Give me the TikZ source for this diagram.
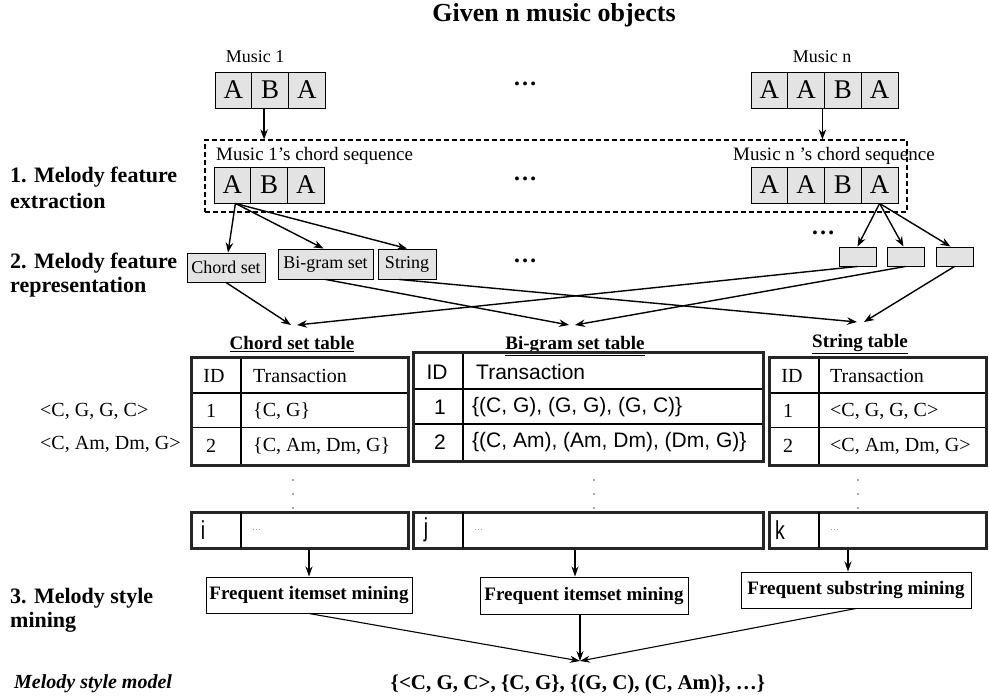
\documentclass[tikz,border=0pt]{standalone}
\usepackage{fontspec}
\setmainfont{Liberation Serif}
\newfontfamily\sansf{Liberation Sans}
\usetikzlibrary{arrows.meta}
\newcommand\fsz[1]{\fontsize{#1}{#1}\selectfont}
\begin{document}
\begin{tikzpicture}[x=1pt,y=-1pt,
  arr/.style={-{Stealth[length=10pt,width=7.5pt]},line width=1.4pt},
  thinarr/.style={-{Stealth[length=10pt,width=7pt]},line width=1.1pt},
  cellA/.style={draw,line width=0.9pt,fill=black!11,minimum width=36.75pt,minimum height=36pt,inner sep=0pt,font=\fsz{27}},
  lbl/.style={inner sep=0pt,font=\fsz{19}},
  stepl/.style={inner sep=0pt,anchor=west,font=\fsz{22}\bfseries},
  rep/.style={draw,line width=0.9pt,fill=black!11,inner sep=0pt,font=\fsz{18}},
  sbox/.style={draw,line width=0.9pt,fill=black!11,minimum width=37pt,minimum height=19pt,inner sep=0pt},
  dotsl/.style={inner sep=0pt,font=\fsz{24}\bfseries},
  tout/.style={line width=3pt,black!85},
  tin/.style={line width=1.2pt},
  tser/.style={inner sep=0pt,font=\fsz{20}},
  tsan/.style={inner sep=0pt,font=\fsz{21}\sansf},
  tlab/.style={inner sep=0pt,font=\fsz{19}\bfseries},
  freq/.style={draw,line width=1pt,inner sep=0pt,font=\fsz{19}\bfseries},
  vdot/.style={fill=black!70,draw=none,circle,inner sep=0pt,minimum size=1.8pt},
  rowbox/.style={draw,line width=3pt,black!85,inner sep=0pt,minimum height=36pt},
  idl/.style={inner sep=0pt,font=\fsz{26}\sansf},
  gdots/.style={inner sep=0pt,font=\fsz{9},text=black!50,anchor=west},
]
\useasboundingbox (0,0) rectangle (989,697);

% title and music objects
\node[inner sep=0pt,font=\fsz{26}\bfseries] (title) at (554,15) {Given n music objects};
\node[lbl,font=\fsz{18}] (mus1) at (255,57) {Music 1};
\node[cellA] (t1a) at (233.4,90) {A};
\node[cellA] (t1b) at (270.1,90) {B};
\node[cellA] (t1c) at (306.9,90) {A};
\node[lbl,font=\fsz{18}] (musn) at (822,57) {Music n};
\node[cellA] (tna) at (769.4,90) {A};
\node[cellA] (tnb) at (806.1,90) {A};
\node[cellA] (tnc) at (842.9,90) {B};
\node[cellA] (tnd) at (879.6,90) {A};
\node[dotsl] (d1) at (525,84) {…};

% extraction box
\node[draw,line width=1.2pt,dash pattern=on 5pt off 3pt,minimum width=702pt,minimum height=72pt,inner sep=0pt] (ext) at (556,176) {};
\node[lbl,anchor=west] (seq1) at (216,156) {Music 1's chord sequence};
\node[cellA] (m1a) at (232.4,185) {A};
\node[cellA] (m1b) at (269.1,185) {B};
\node[cellA] (m1c) at (305.9,185) {A};
\node[lbl,anchor=west] (seqn) at (733,156) {Music n 's chord sequence};
\node[cellA] (mna) at (769.4,185) {A};
\node[cellA] (mnb) at (806.1,185) {A};
\node[cellA] (mnc) at (842.9,185) {B};
\node[cellA] (mnd) at (879.6,185) {A};
\node[dotsl] (d2) at (525,179) {…};

\draw[arr] ([xshift=-6pt]t1b.south) -- ([xshift=-6pt]t1b.south |- ext.north);
\draw[arr] ([xshift=-2.5pt]tnb.south east) -- ([xshift=-2.5pt]tnb.south east |- ext.north);

% step labels
\node[stepl] (s1a) at (10,177) {1. Melody feature};
\node[stepl] (s1b) at (10,201) {extraction};
\node[stepl] (s2a) at (10,263) {2. Melody feature};
\node[stepl] (s2b) at (10,287) {representation};
\node[stepl] (s3a) at (10,598) {3. Melody style};
\node[stepl] (s3b) at (10,622) {mining};

% representation boxes
\node[rep,minimum width=78pt,minimum height=29pt] (chord) at (226,267.5) {Chord set};
\node[rep,minimum width=95pt,minimum height=30pt] (bigr) at (325.5,264) {Bi-gram set};
\node[rep,minimum width=58pt,minimum height=30pt] (strg) at (407,264) {String};
\node[dotsl] (d3) at (525,261) {…};
\node[dotsl] (d4) at (823,233) {…};
\node[sbox] (sb1) at (857.5,256.5) {};
\node[sbox] (sb2) at (905.5,256.5) {};
\node[sbox] (sb3) at (954.5,256.5) {};

\coordinate (m1o) at ([xshift=3pt]m1a.south);
\draw[arr] (m1o) -- ([xshift=2pt]chord.north);
\draw[arr] (m1o) -- ([xshift=-2pt]bigr.north);
\draw[arr] (m1o) -- (strg.north);
\coordinate (mno) at (mnd.south);
\draw[arr] (mno) -- (sb1.north);
\draw[arr] (mno) -- ([xshift=-2pt]sb2.north);
\draw[arr] (mno) -- ([xshift=-4pt]sb3.north);

% crossing connectors
\coordinate (ctl) at (291,325);
\coordinate (ctr) at (297,325);
\coordinate (btl) at (569,325);
\coordinate (btr) at (575,325);
\coordinate (stl) at (857,322);
\coordinate (sttr) at (864,322);
\draw[arr] (chord.south) -- (ctl);
\draw[arr] (bigr.south) -- (btl);
\draw[arr] ([xshift=-8pt]strg.south) -- (stl);
\draw[arr] (sb1.south) -- (ctr);
\draw[arr] (sb2.south) -- (btr);
\draw[arr] (sb3.south) -- (sttr);

% table labels
\node[tlab] (ctab) at (292,344) {\underline{Chord set table}};
\node[tlab] (btab) at (575,346) {\underline{Bi-gram set table}};
\node[tlab] (stab) at (860,344) {\underline{String table}};

% chord table
\draw[tin] (241,357) -- (241,465) (191,393) -- (408,393) (191,427.5) -- (408,427.5);
\draw[tout] (191,357) rectangle (408,465);
\node[tser] (c00) at (214,376) {ID};
\node[tser,anchor=west] (c01) at (253,376) {Transaction};
\node[tser] (c10) at (211,411) {1};
\node[tser,anchor=west] (c11) at (253,411) {\{C, G\}};
\node[tser] (c20) at (211,446) {2};
\node[tser,anchor=west] (c21) at (253,446) {\{C, Am, Dm, G\}};

% bigram table
\draw[tin] (463,352) -- (463,461) (413,389) -- (763,389) (413,424) -- (763,424);
\draw[tout] (413,352) rectangle (763,461);
\node[tsan] (b00) at (437,372) {ID};
\node[tsan,anchor=west] (b01) at (476,372) {Transaction};
\node[tsan] (b10) at (440,407) {1};
\node[tsan,anchor=west] (b11) at (472,407) {\{(C, G), (G, G), (G, C)\}};
\node[tsan] (b20) at (440,442) {2};
\node[tsan,anchor=west] (b21) at (472,442) {\{(C, Am), (Am, Dm), (Dm, G)\}};

% string table
\draw[tin] (819,357) -- (819,465) (769,393) -- (986.5,393) (769,427.5) -- (986.5,427.5);
\draw[tout] (769,357) rectangle (986.5,465);
\node[tser] (s00) at (792,376) {ID};
\node[tser,anchor=west] (s01) at (830,376) {Transaction};
\node[tser] (s10) at (788,411) {1};
\node[tser,anchor=west] (s11) at (830,411) {<C, G, G, C>};
\node[tser] (s20) at (788,446) {2};
\node[tser,anchor=west] (s21) at (830,446) {<C, Am, Dm, G>};

% example sequences
\node[tser,anchor=west] (ex1) at (40,411) {<C, G, G, C>};
\node[tser,anchor=west] (ex2) at (40,444) {<C, Am, Dm, G>};

% vertical dots
\foreach \x in {293,594,858}{
  \foreach \y in {480,494,508}{ \node[vdot] at (\x,\y) {}; }
}

% last rows
\node[rowbox,minimum width=217pt] (irow) at (299.5,530) {};
\draw[tin] (241,512) -- (241,548);
\node[idl] (ii) at (203,530) {\scalebox{0.75}[1]{i}};
\node[gdots] (ig) at (252,530) {…};
\node[rowbox,minimum width=350pt] (jrow) at (588,530) {};
\draw[tin] (463,512) -- (463,548);
\node[idl] (jj) at (426,530) {\scalebox{0.75}[1]{j}};
\node[gdots] (jg) at (474,530) {…};
\node[rowbox,minimum width=217.5pt] (krow) at (877.75,530) {};
\draw[tin] (819,512) -- (819,548);
\node[idl] (kk) at (780,530) {\scalebox{0.75}[1]{k}};
\node[gdots] (kg) at (830,530) {…};

% mining boxes
\node[freq,minimum width=206pt,minimum height=36pt] (fq1) at (309,595) {Frequent itemset mining};
\node[freq,minimum width=208pt,minimum height=37pt] (fq2) at (584,595.5) {Frequent itemset mining};
\node[freq,minimum width=230pt,minimum height=36pt] (fq3) at (856,590) {Frequent substring mining};

\draw[thinarr] (fq1.north |- irow.south) -- (fq1.north);
\draw[thinarr] ([xshift=-9pt]fq2.north |- jrow.south) -- ([xshift=-9pt]fq2.north);
\draw[thinarr] ([xshift=-8pt]fq3.north |- krow.south) -- ([xshift=-8pt]fq3.north);

\coordinate (conv) at (580,661);
\draw[thinarr] (fq1.south) -- (conv);
\draw[thinarr] ([xshift=-4pt]fq2.south) -- (conv);
\draw[thinarr] (fq3.south) -- (conv);

% model
\node[inner sep=0pt,anchor=west,font=\fsz{20}\bfseries\itshape] (mlab) at (14,684) {Melody style model};
\node[inner sep=0pt,font=\fsz{21}\bfseries] (model) at (578,684) {\{<C, G, C>, \{C, G\}, \{(G, C), (C, Am)\}, …\}};
\end{tikzpicture}
\end{document}
